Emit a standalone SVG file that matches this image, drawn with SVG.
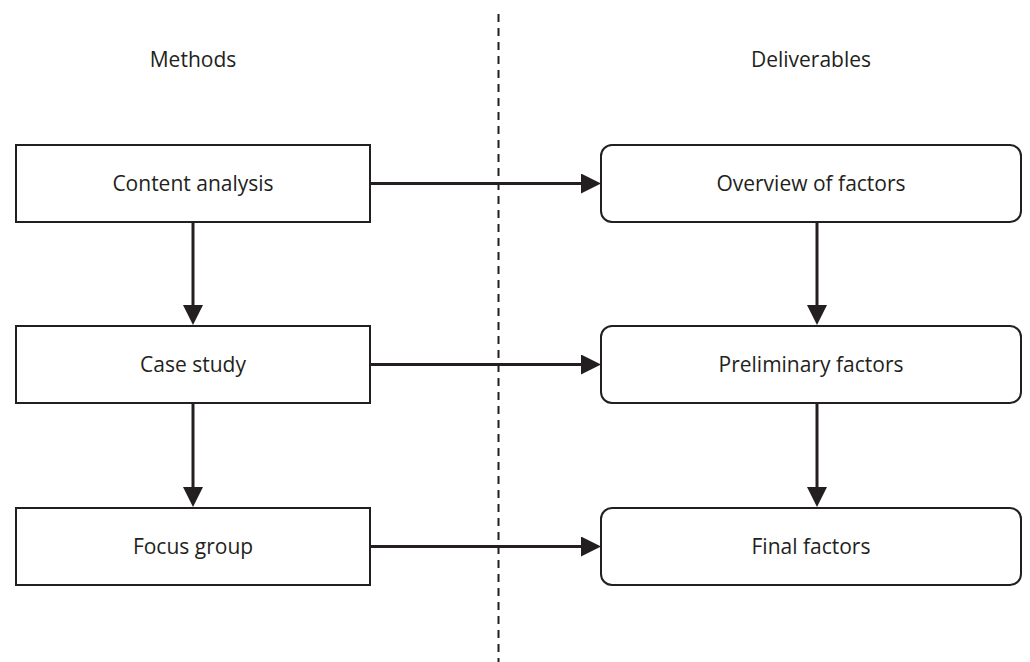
<svg xmlns="http://www.w3.org/2000/svg" width="1030" height="662" viewBox="0 0 1030 662">
  <defs>
    <marker id="ah" markerUnits="userSpaceOnUse" markerWidth="20" markerHeight="20" viewBox="0 0 20 20" refX="10" refY="10" orient="auto">
      <path d="M0,0 L20,10 L0,20 Z" fill="#231f20"/>
    </marker>
  </defs>
  <style>
    .box { fill: #ffffff; stroke: #231f20; stroke-width: 2; }
    .lbl { font-family: "Open Sans", "Noto Sans", sans-serif; font-size: 21px; fill: #231f20; text-anchor: middle; }
    .conn { stroke: #231f20; stroke-width: 3; fill: none; marker-end: url(#ah); }
    .divider { stroke: #231f20; stroke-width: 2; stroke-dasharray: 8 6; }
  </style>
  <rect width="1030" height="662" fill="#ffffff"/>

  <line class="divider" x1="498.5" y1="14" x2="498.5" y2="662"/>

  <g id="header-methods"><text class="lbl" x="193" y="67">Methods</text></g>
  <g id="header-deliverables"><text class="lbl" x="811" y="67">Deliverables</text></g>

  <g id="connectors">
    <line class="conn" x1="370" y1="183.5" x2="591" y2="183.5"/>
    <line class="conn" x1="370" y1="364.5" x2="591" y2="364.5"/>
    <line class="conn" x1="370" y1="546.5" x2="591" y2="546.5"/>
    <line class="conn" x1="193" y1="222" x2="193" y2="315"/>
    <line class="conn" x1="193" y1="403" x2="193" y2="497"/>
    <line class="conn" x1="817" y1="222" x2="817" y2="315"/>
    <line class="conn" x1="817" y1="403" x2="817" y2="497"/>
  </g>

  <g id="content-analysis">
    <rect class="box" x="16" y="145" width="354" height="77"/>
    <text class="lbl" x="193" y="191">Content analysis</text>
  </g>
  <g id="case-study">
    <rect class="box" x="16" y="326" width="354" height="77"/>
    <text class="lbl" x="193" y="372">Case study</text>
  </g>
  <g id="focus-group">
    <rect class="box" x="16" y="508" width="354" height="77"/>
    <text class="lbl" x="193" y="554">Focus group</text>
  </g>
  <g id="overview-of-factors">
    <rect class="box" x="601" y="145" width="420" height="77" rx="11" ry="11"/>
    <text class="lbl" x="811" y="191">Overview of factors</text>
  </g>
  <g id="preliminary-factors">
    <rect class="box" x="601" y="326" width="420" height="77" rx="11" ry="11"/>
    <text class="lbl" x="811" y="372">Preliminary factors</text>
  </g>
  <g id="final-factors">
    <rect class="box" x="601" y="508" width="420" height="77" rx="11" ry="11"/>
    <text class="lbl" x="811" y="554">Final factors</text>
  </g>
</svg>
